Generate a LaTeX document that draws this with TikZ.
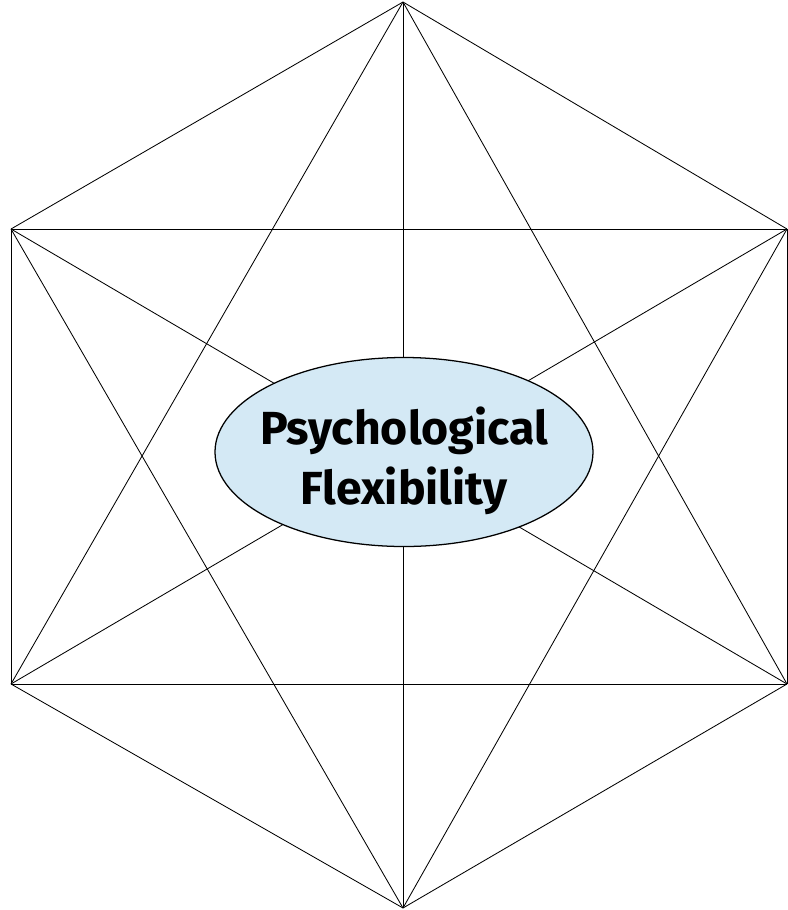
\documentclass[tikz,border=0pt]{standalone}
\usepackage{fontspec}
\setsansfont{Fira Sans}
\usepackage{xcolor}
\usepackage{tikz}
\usetikzlibrary{shapes.geometric,backgrounds}

\definecolor{coreblue}{HTML}{D4E9F5}

\begin{document}
\begin{tikzpicture}[
  x=0.025cm, y=-0.025cm,
  edge/.style={draw=black, line width=0.6pt},
  core/.style={ellipse, draw=black, line width=0.9pt, fill=coreblue, minimum width=378*0.025cm, minimum height=189*0.025cm, inner xsep=-12pt, inner ysep=0pt, font=\sffamily\bfseries\fontsize{33}{43}\selectfont, align=center}
]

\useasboundingbox (0,0) rectangle (788,910);

% corners of the hexagon
\coordinate (top) at (403,2);
\coordinate (ul) at (11,229);
\coordinate (ur) at (787,229);
\coordinate (ll) at (11,684);
\coordinate (lr) at (787,684);
\coordinate (bot) at (403,908);

% every corner joined to every other one
\foreach \a/\b in {top/ul, top/ur, top/ll, top/lr, top/bot,
                   ul/ur, ul/ll, ul/lr, ul/bot,
                   ur/ll, ur/lr, ur/bot,
                   ll/lr, ll/bot,
                   lr/bot}
  \draw[edge] (\a) -- (\b);

\node[core] (flex) at (404,452) {\rule{0pt}{39pt}Psychological\\Flexibility};

\end{tikzpicture}
\end{document}
